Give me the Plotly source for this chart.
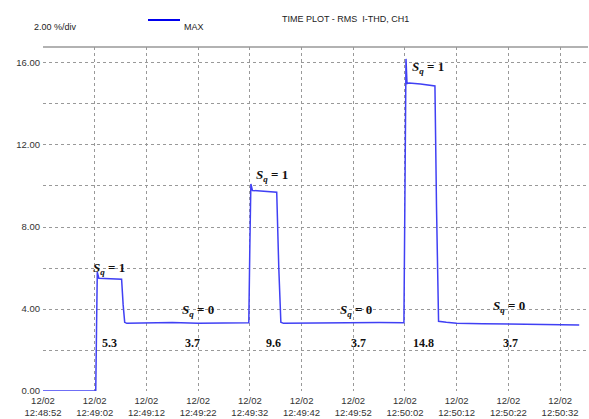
import plotly.graph_objects as go

# ---- data (seconds after 12:48:52) ----
t_sec = [0, 10.2, 10.35, 10.5, 10.8, 15.2, 15.5, 15.8, 16.2, 20, 25, 30, 35, 39.8,
         40.0, 40.2, 40.5, 42, 45.2, 45.6, 46.0, 46.5, 50, 55, 60, 65, 69.8,
         70.0, 70.2, 70.4, 70.8, 73, 75.8, 76.1, 76.5, 78, 80, 85, 90, 95, 100, 103.7]
thd = [0, 0, 3.0, 5.8, 5.5, 5.45, 4.2, 3.35, 3.3, 3.32, 3.34, 3.31, 3.33, 3.33,
       7.0, 10.1, 9.78, 9.76, 9.7, 6.0, 3.35, 3.3, 3.31, 3.33, 3.32, 3.34, 3.33,
       12.4, 16.2, 15.0, 15.02, 14.98, 14.88, 9.0, 3.4, 3.35, 3.3, 3.28, 3.26, 3.27, 3.24, 3.22]

tick_secs = [0, 10, 20, 30, 40, 50, 60, 70, 80, 90, 100]
tick_labels = ["12/02<br>12:48:52", "12/02<br>12:49:02", "12/02<br>12:49:12",
               "12/02<br>12:49:22", "12/02<br>12:49:32", "12/02<br>12:49:42",
               "12/02<br>12:49:52", "12/02<br>12:50:02", "12/02<br>12:50:12",
               "12/02<br>12:50:22", "12/02<br>12:50:32"]
y_ticks = [0, 2, 4, 6, 8, 10, 12, 14, 16]
y_labels = ["0.00", "", "4.00", "", "8.00", "", "12.00", "", "16.00"]

event_secs = [0, 27.7, 28.4, 29.2, 30.2, 32.7, 35.6, 40.8, 58.6, 59.4, 60.3, 61.3, 81.8, 83.9]
open_event_secs = [87.6]

state_labels = ["<i><b>S</b></i><sub><i><b>q</b></i></sub><b> = 1</b>",
                "<i><b>S</b></i><sub><i><b>q</b></i></sub><b> = 0</b>"]
seg_x = [12.9, 29.0, 44.5, 61.0, 73.5, 90.5]
seg_values = ["5.3", "3.7", "9.6", "3.7", "14.8", "3.7"]
sq_pos = [(12.8, 6.0, 0), (29.9, 3.95, 1), (44.3, 10.5, 0), (60.6, 3.95, 1), (74.5, 15.8, 0), (90.1, 4.1, 1)]

Y_TOP = 16.78
X_MAX = 105.4

fig = go.Figure()
fig.add_trace(go.Scatter(x=t_sec, y=thd, mode="lines",
                         line=dict(color="#4040f4", width=1.5), showlegend=False,
                         hoverinfo="skip"))
fig.add_trace(go.Scatter(x=event_secs, y=[Y_TOP + 0.12] * len(event_secs), mode="markers",
                         marker=dict(symbol="triangle-down", color="#ff0000", size=7),
                         cliponaxis=False, showlegend=False))
fig.add_trace(go.Scatter(x=open_event_secs, y=[Y_TOP + 0.12] * len(open_event_secs), mode="markers",
                         marker=dict(symbol="triangle-down-open", color="#ff0000", size=7),
                         cliponaxis=False, showlegend=False))

ann = []
for (x, y, k) in sq_pos:
    ann.append(dict(x=x, y=y, xref="x", yref="y", text=state_labels[k], showarrow=False,
                    font=dict(family="Liberation Serif", size=13, color="#111")))
for x, v in zip(seg_x, seg_values):
    ann.append(dict(x=x, y=2.35, xref="x", yref="y", text="<b>%s</b>" % v, showarrow=False,
                    font=dict(family="Liberation Serif", size=12, color="#111")))

W, H = 589, 419
L, R, T, B = 43, 1, 47, 28
pw, ph = W - L - R, H - T - B
def px(xp):
    return (xp - L) / pw
def py(yp):
    return (H - B - yp) / ph

ann.append(dict(x=px(32), y=py(20), xref="paper", yref="paper", text="2.00 %/div",
                showarrow=False, xanchor="left", font=dict(family="Liberation Sans", size=9, color="#222")))
ann.append(dict(x=px(182), y=py(20), xref="paper", yref="paper", text="MAX",
                showarrow=False, xanchor="left", font=dict(family="Liberation Sans", size=9, color="#222")))
ann.append(dict(x=px(345), y=py(12), xref="paper", yref="paper", text="TIME PLOT - RMS  I-THD, CH1",
                showarrow=False, xanchor="center", font=dict(family="Liberation Sans", size=9, color="#222")))

shapes = [
    dict(type="line", xref="paper", yref="paper", x0=px(148), x1=px(180), y0=py(20), y1=py(20),
         line=dict(color="#0000ee", width=2)),
    dict(type="line", xref="paper", yref="paper", x0=0, x1=1, y0=1, y1=1,
         line=dict(color="#999999", width=1.5)),
]

fig.update_layout(
    width=W, height=H, margin=dict(l=L, r=R, t=T, b=B, autoexpand=False),
    paper_bgcolor="white", plot_bgcolor="white",
    annotations=ann, shapes=shapes,
    xaxis=dict(range=[0, X_MAX], tickvals=tick_secs, ticktext=tick_labels,
               showgrid=True, gridcolor="#999", griddash="dot", gridwidth=1,
               zeroline=False, showline=False, ticks="", automargin=False,
               ticklabelstandoff=2,
               tickfont=dict(family="Liberation Sans", size=9.5, color="#333")),
    yaxis=dict(range=[0, Y_TOP], tickvals=y_ticks, ticktext=y_labels,
               showgrid=True, gridcolor="#999", griddash="dot", gridwidth=1,
               zeroline=False, showline=False, ticks="", automargin=False,
               ticklabelstandoff=2,
               tickfont=dict(family="Liberation Sans", size=9.5, color="#333")),
    showlegend=False,
)

fig.write_html("out.html", config={"displayModeBar": False},
               post_script="document.body.style.margin='0';")
